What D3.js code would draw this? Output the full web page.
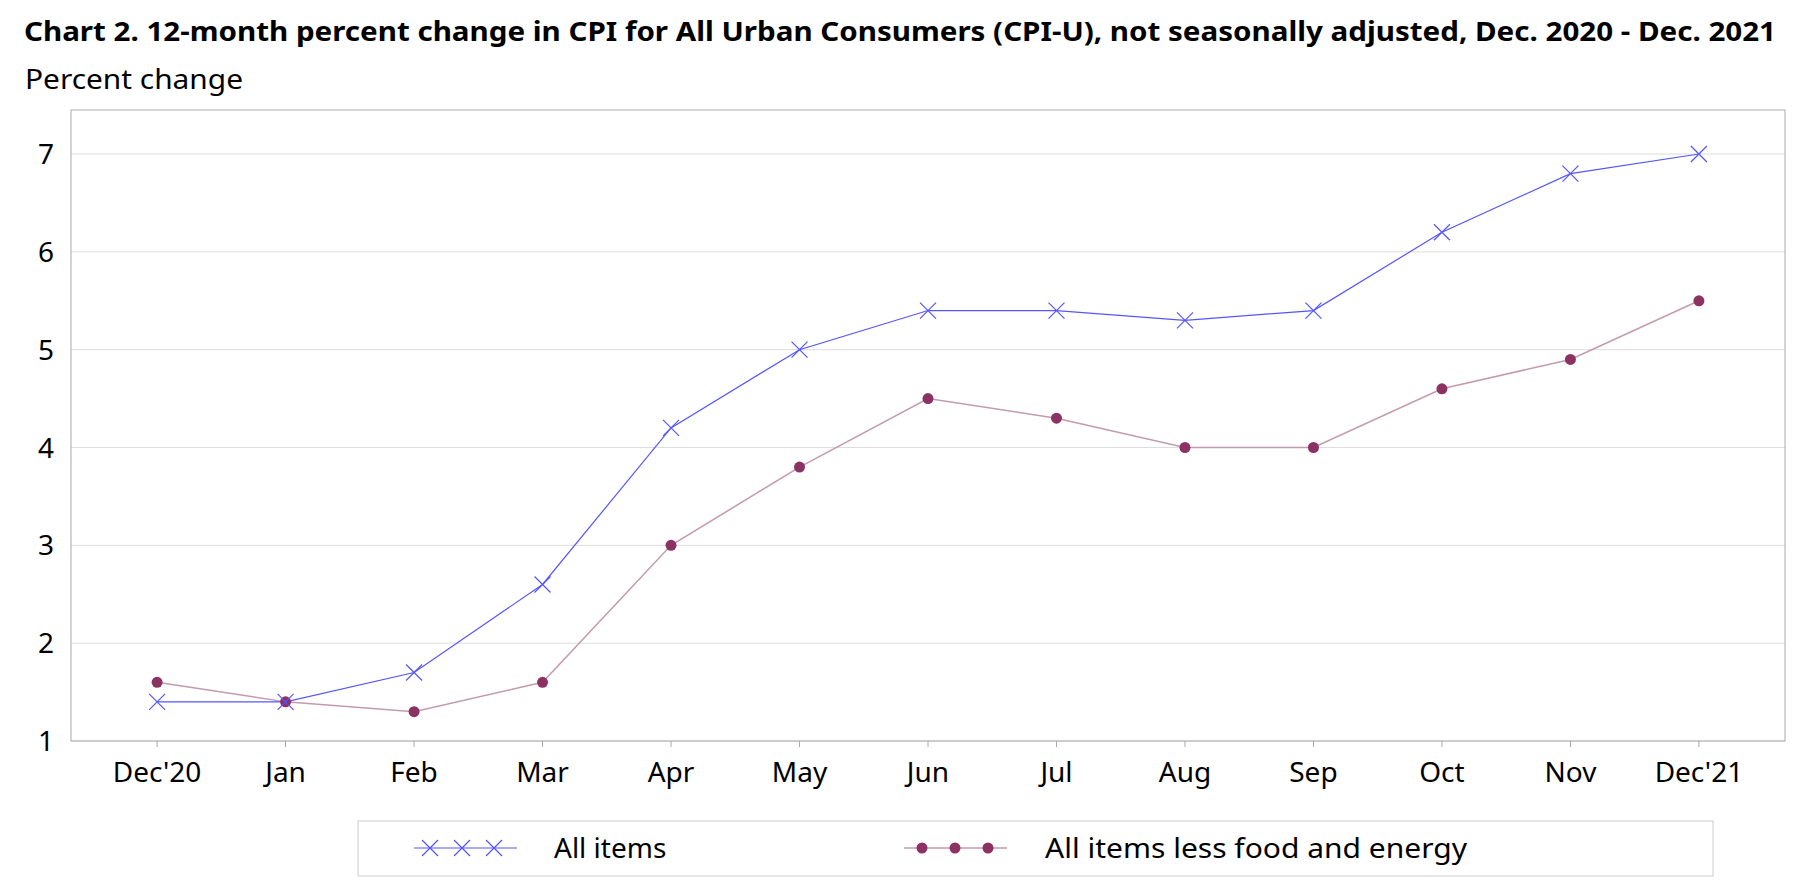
<!DOCTYPE html>
<html><head><meta charset="utf-8">
<script src="https://cdn.jsdelivr.net/npm/d3@7/dist/d3.min.js"></script>
<style>body{margin:0;background:#fff}text{font-family:"Noto Sans",sans-serif}</style>
</head><body><svg id="c" width="1794" height="887"></svg>
<script>
const months = ["Dec'20","Jan","Feb","Mar","Apr","May","Jun","Jul","Aug","Sep","Oct","Nov","Dec'21"];
const allItems = [1.4,1.4,1.7,2.6,4.2,5.0,5.4,5.4,5.3,5.4,6.2,6.8,7.0];
const core = [1.6,1.4,1.3,1.6,3.0,3.8,4.5,4.3,4.0,4.0,4.6,4.9,5.5];
const yTicks = [1,2,3,4,5,6,7];
const seriesNames = ["All items","All items less food and energy"];

const svg = d3.select("#c");
const L=71,R=1785,T=110,B=741;
const x = d3.scalePoint().domain(months).range([L,R]).padding(0.67);
const y = d3.scaleLinear().domain([1,7.45]).range([B,T]);

svg.append("text").attr("x",24).attr("y",41).attr("font-size",26).attr("font-weight","bold")
  .attr("textLength",1752).attr("lengthAdjust","spacingAndGlyphs")
  .text("Chart 2. 12-month percent change in CPI for All Urban Consumers (CPI-U), not seasonally adjusted, Dec. 2020 - Dec. 2021");
svg.append("text").attr("x",25).attr("y",89).attr("font-size",28)
  .attr("textLength",218).attr("lengthAdjust","spacingAndGlyphs").text("Percent change");

svg.append("g").selectAll("line").data(yTicks).join("line")
  .attr("x1",L).attr("x2",R).attr("y1",d=>y(d)).attr("y2",d=>y(d)).attr("stroke","#ddd");
svg.append("rect").attr("x",L).attr("y",T).attr("width",R-L).attr("height",B-T)
  .attr("fill","none").attr("stroke","#aaa");
svg.append("g").selectAll("text").data(yTicks).join("text")
  .attr("x",54).attr("y",d=>y(d)+10).attr("text-anchor","end").attr("font-size",28).text(d=>d);
svg.append("g").selectAll("line").data(months).join("line")
  .attr("x1",d=>x(d)).attr("x2",d=>x(d)).attr("y1",B).attr("y2",B+6).attr("stroke","#aaa");
svg.append("g").selectAll("text").data(months).join("text")
  .attr("x",d=>x(d)).attr("y",782).attr("text-anchor","middle").attr("font-size",28).text(d=>d);

const line = d3.line().x((d,i)=>x(months[i])).y(d=>y(d));
svg.append("path").datum(core).attr("d",line).attr("fill","none").attr("stroke","#c49aae").attr("stroke-width",1.5);
svg.append("path").datum(allItems).attr("d",line).attr("fill","none").attr("stroke","#5555ff").attr("stroke-width",1.2);
svg.append("g").selectAll("circle").data(core).join("circle")
  .attr("cx",(d,i)=>x(months[i])).attr("cy",d=>y(d)).attr("r",5.5).attr("fill","#8b3263");
const cross = (g,cx,cy,s)=>g.append("path").attr("d",`M${cx-s},${cy-s}L${cx+s},${cy+s}M${cx-s},${cy+s}L${cx+s},${cy-s}`)
  .attr("stroke","#5555ff").attr("stroke-width",1.2).attr("fill","none");
const cg = svg.append("g");
allItems.forEach((d,i)=>cross(cg,x(months[i]),y(d),8));

// legend
svg.append("rect").attr("x",358).attr("y",821).attr("width",1355).attr("height",55).attr("fill","none").attr("stroke","#ccc");
const ly=848;
svg.append("line").attr("x1",414).attr("x2",517).attr("y1",ly).attr("y2",ly).attr("stroke","#5555ff").attr("stroke-width",1.2);
[430,462,494].forEach(v=>cross(cg,v,ly,8));
svg.append("text").attr("x",554).attr("y",ly+10).attr("font-size",28).text(seriesNames[0]);
svg.append("line").attr("x1",904).attr("x2",1007).attr("y1",ly).attr("y2",ly).attr("stroke","#c49aae").attr("stroke-width",1.5);
svg.append("g").selectAll("circle").data([922,955,988]).join("circle").attr("cx",d=>d).attr("cy",ly).attr("r",5.5).attr("fill","#8b3263");
svg.append("text").attr("x",1045).attr("y",ly+10).attr("font-size",28).attr("textLength",422).attr("lengthAdjust","spacingAndGlyphs").text(seriesNames[1]);
</script></body></html>
